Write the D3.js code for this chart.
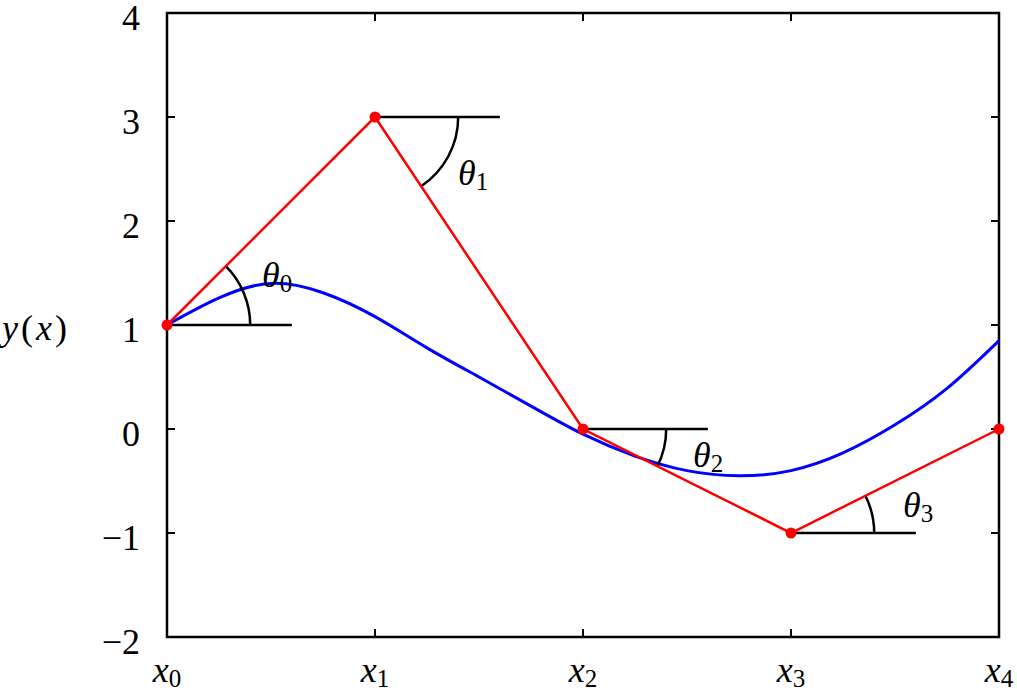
<!DOCTYPE html>
<html>
<head>
<meta charset="utf-8">
<script src="https://cdn.jsdelivr.net/npm/d3@7"></script>
<style>
  html, body { margin: 0; padding: 0; background: #fff; }
  #chart text, #chart tspan { font-family: 'Liberation Serif', 'Times New Roman', Tinos, serif !important; }
</style>
</head>
<body>
<svg id="chart" width="1017" height="692"></svg>
<script>
// ---- data ----
const nodeX = [0, 1, 2, 3, 4];
const nodeY = [1, 3, 0, -1, 0];
const nodeLabels = ["0", "1", "2", "3", "4"];
const curveX = [0, 0.25, 0.5, 0.75, 1, 1.25, 1.5, 1.75, 2, 2.25, 2.5, 2.75, 3, 3.25, 3.5, 3.75, 4];
const curveY = [1.0, 1.26, 1.40, 1.31, 1.08, 0.78, 0.50, 0.22, -0.05, -0.26, -0.40, -0.45, -0.40, -0.23, 0.04, 0.39, 0.85];
const yTicks = [-2, -1, 0, 1, 2, 3, 4];
const angleNodes = [0, 1, 2, 3];      // nodes with an angle marker
const angleTargets = [1, 2, 3, 4];    // next node that defines the angle
const refLen = 0.6;                   // length of horizontal reference line (x units)
const arcRadius = 0.4;                // arc radius (x units)

// ---- layout ----
const svg = d3.select("#chart");
const pL = 167, pR = 999, pT = 13, pB = 637;
const xs = d3.scaleLinear().domain([0, 4]).range([pL, pR]);
const ys = d3.scaleLinear().domain([-2, 4]).range([pB, pT]);
const FS = 36;
const SERIF = "Liberation Serif";

function txt(sel) {
  return sel.attr("font-family", SERIF).style("font-family", SERIF);
}

// frame
svg.append("rect")
  .attr("x", pL).attr("y", pT)
  .attr("width", pR - pL).attr("height", pB - pT)
  .attr("fill", "none").attr("stroke", "#000").attr("stroke-width", 2.5);

// ticks (inward, all four sides)
const tickLen = 8;
const tg = svg.append("g").attr("stroke", "#000").attr("stroke-width", 2);
yTicks.forEach(t => {
  tg.append("line").attr("x1", pL).attr("x2", pL + tickLen).attr("y1", ys(t)).attr("y2", ys(t));
  tg.append("line").attr("x1", pR).attr("x2", pR - tickLen).attr("y1", ys(t)).attr("y2", ys(t));
});
nodeX.forEach(t => {
  tg.append("line").attr("x1", xs(t)).attr("x2", xs(t)).attr("y1", pB).attr("y2", pB - tickLen);
  tg.append("line").attr("x1", xs(t)).attr("x2", xs(t)).attr("y1", pT).attr("y2", pT + tickLen);
});

// y tick labels
yTicks.forEach(d => {
  txt(svg.append("text"))
    .attr("x", pL - 27).attr("y", ys(d) + 17)
    .attr("text-anchor", "end").attr("font-size", FS)
    .text(d < 0 ? "\u2212" + Math.abs(d) : String(d));
});

// x tick labels with subscripts
nodeX.forEach((v, i) => {
  const t = txt(svg.append("text")).attr("x", xs(v)).attr("y", 682)
    .attr("text-anchor", "middle").attr("font-size", FS);
  txt(t.append("tspan")).style("font-style", "italic").text("x");
  txt(t.append("tspan")).attr("font-size", 25).attr("dy", 5).text(nodeLabels[i]);
});

// y axis title
const yt = txt(svg.append("text")).attr("x", 2).attr("y", 340).attr("font-size", FS)
  .attr("letter-spacing", 3);
txt(yt.append("tspan")).style("font-style", "italic").text("y");
txt(yt.append("tspan")).text("(");
txt(yt.append("tspan")).style("font-style", "italic").text("x");
txt(yt.append("tspan")).text(")");

// blue curve
const curvePts = curveX.map((v, i) => [v, curveY[i]]);
svg.append("path").datum(curvePts)
  .attr("fill", "none").attr("stroke", "#0000ff").attr("stroke-width", 3)
  .attr("d", d3.line().x(d => xs(d[0])).y(d => ys(d[1])).curve(d3.curveNatural));

// horizontal reference lines and arcs
const ag = svg.append("g").attr("fill", "none").attr("stroke", "#000").attr("stroke-width", 2.5);
const rad = xs(arcRadius) - xs(0);
angleNodes.forEach((n, k) => {
  const cx = xs(nodeX[n]), cy = ys(nodeY[n]);
  ag.append("line").attr("x1", cx).attr("y1", cy)
    .attr("x2", xs(nodeX[n] + refLen)).attr("y2", cy);
  const tx = xs(nodeX[angleTargets[k]]), ty = ys(nodeY[angleTargets[k]]);
  const a = Math.atan2(ty - cy, tx - cx);
  const p = d3.path();
  p.moveTo(cx + rad, cy);
  p.arc(cx, cy, rad, 0, a, a < 0);
  ag.append("path").attr("d", p.toString());
});

// red polyline
const redPts = nodeX.map((v, i) => [v, nodeY[i]]);
svg.append("path").datum(redPts)
  .attr("fill", "none").attr("stroke", "#ff0000").attr("stroke-width", 2.5)
  .attr("d", d3.line().x(d => xs(d[0])).y(d => ys(d[1])));
svg.append("g").selectAll("circle").data(redPts).join("circle")
  .attr("cx", d => xs(d[0])).attr("cy", d => ys(d[1])).attr("r", 5.5)
  .attr("fill", "#ff0000");

// theta labels (offsets in pixels from the node)
const thetaOffsets = [[95, -38], [83, 68], [110, 38], [112, -16]];
angleNodes.forEach((n, k) => {
  const t = txt(svg.append("text"))
    .attr("x", xs(nodeX[n]) + thetaOffsets[k][0])
    .attr("y", ys(nodeY[n]) + thetaOffsets[k][1])
    .attr("font-size", FS);
  txt(t.append("tspan")).style("font-style", "italic").text("\u03b8");
  txt(t.append("tspan")).attr("font-size", 25).attr("dy", 5).text(nodeLabels[n]);
});
</script>
</body>
</html>
